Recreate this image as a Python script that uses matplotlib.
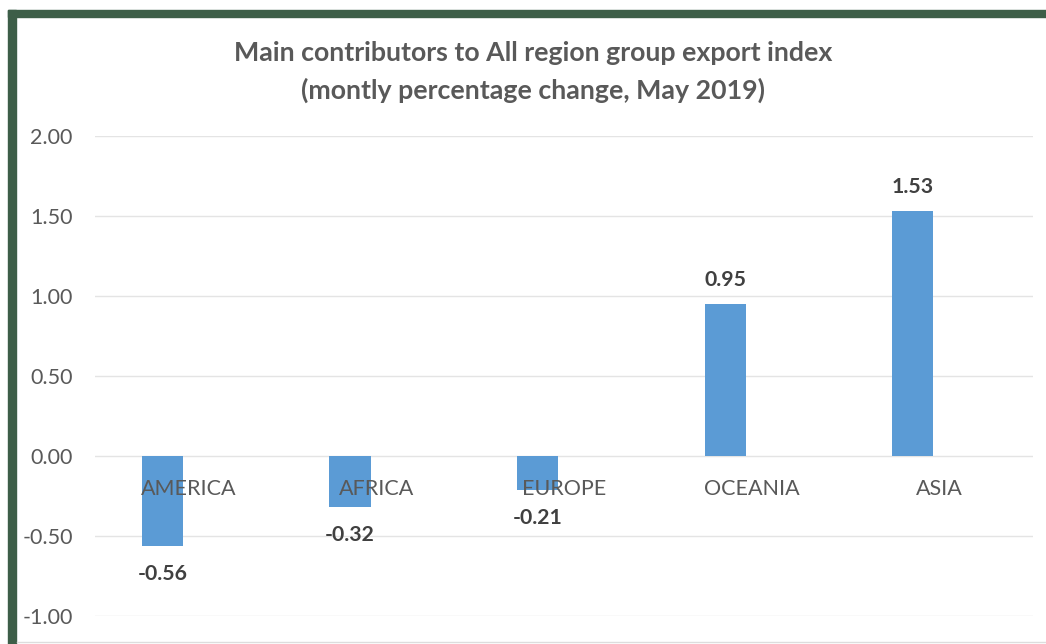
import matplotlib.pyplot as plt
from matplotlib.patches import Rectangle
from matplotlib.lines import Line2D
import numpy as np

plt.rcParams['font.family'] = ['Lato', 'DejaVu Sans']

regions = ['AMERICA', 'AFRICA', 'EUROPE', 'OCEANIA', 'ASIA']
change = [-0.56, -0.32, -0.21, 0.95, 1.53]
yticks = [-1.0, -0.5, 0.0, 0.5, 1.0, 1.5, 2.0]

txt = '#595959'
bar_col = '#5B9BD5'
grid_col = '#E4E4E4'
border = '#3D5E48'

W, H = 1046, 644
fig = plt.figure(figsize=(W / 100, H / 100), dpi=100)
ax = fig.add_axes([95 / W, (H - 616) / H, (1033 - 95) / W, (616 - 136) / H])

x = np.arange(len(regions))
# excel clustered layout: bar sits left of the category centre
off = -0.141
ax.bar(x + off, change, width=0.22, color=bar_col, zorder=2)

ax.set_xlim(-0.5, len(regions) - 0.5)
ax.set_ylim(-1, 2)
ax.set_yticks(yticks)
ax.set_yticklabels([f'{v:.2f}' for v in yticks], fontsize=15.5, color=txt)
ax.tick_params(axis='y', length=0, pad=16)
ax.set_xticks([])
ax.grid(axis='y', color=grid_col, linewidth=1, zorder=0)
for s in ax.spines.values():
    s.set_visible(False)

# category names sit just under the zero line
for xi, name in zip(x, regions):
    ax.annotate(name, (xi, 0), xytext=(0, -33), textcoords='offset pixels',
                ha='center', va='center', fontsize=15.5, color=txt, zorder=3)

for xi, v in zip(x, change):
    dy = 24 if v > 0 else -28
    ax.annotate(f'{v:.2f}', (xi + off, v), xytext=(0, dy), textcoords='offset pixels',
                ha='center', va='center', fontsize=15.3, fontweight='bold',
                color='#404040', zorder=3)

fig.text(533 / W, 1 - 53 / H, 'Main contributors to All region group export index',
         ha='center', va='center', fontsize=19.3, fontweight='bold', color=txt)
fig.text(533 / W, 1 - 90 / H, '(montly percentage change, May 2019)',
         ha='center', va='center', fontsize=19.3, fontweight='bold', color=txt)

# dark green frame on top and left, faint line at the bottom
fig.patches.append(Rectangle((8 / W, 1 - 17 / H), 1 - 8 / W, 7 / H,
                             transform=fig.transFigure, color=border))
fig.patches.append(Rectangle((8 / W, 0), 8 / W, 1 - 10 / H,
                             transform=fig.transFigure, color=border))
fig.lines.append(Line2D([17 / W, 1], [1 - 641.5 / H] * 2, transform=fig.transFigure,
                        color='#DDDDDD', linewidth=1))

fig.savefig('out.png', dpi=100)
